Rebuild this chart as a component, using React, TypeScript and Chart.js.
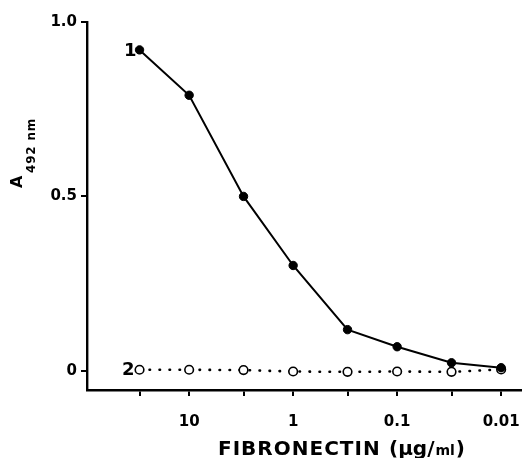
import React, { useEffect, useRef } from "react";
import { Chart, registerables } from "chart.js";

Chart.register(...registerables);

const concentrations = [30, 10, 3, 1, 0.3, 0.1, 0.03, 0.01];
const series1 = [0.92, 0.79, 0.5, 0.302, 0.118, 0.069, 0.023, 0.009];
const series2 = [0.003, 0.003, 0.002, -0.002, -0.003, -0.002, -0.003, 0.004];
const xTickValues = [30, 10, 3, 1, 0.3, 0.1, 0.03, 0.01];
const xTickLabels: Record<string, string> = { "10": "10", "1": "1", "0.1": "0.1", "0.01": "0.01" };
const yTickValues = [0, 0.5, 1.0];
const yTickLabels = ["0", "0.5", "1.0"];
const seriesLabels = ["1", "2"];

const FONT = "'DejaVu Sans', 'Liberation Sans', Arial, sans-serif";

const annotate = {
  id: "annotate",
  afterDraw(chart: any) {
    const ctx = chart.ctx;
    const xs = chart.scales.x;
    const ys = chart.scales.y;
    ctx.save();
    ctx.fillStyle = "#000";
    ctx.font = `bold 18px ${FONT}`;
    ctx.textAlign = "right";
    ctx.textBaseline = "middle";
    ctx.fillText(seriesLabels[0], xs.getPixelForValue(concentrations[0]) - 3, ys.getPixelForValue(series1[0]) + 1);
    ctx.fillText(seriesLabels[1], xs.getPixelForValue(concentrations[0]) - 5, ys.getPixelForValue(series2[0]) + 1);

    // x-axis title
    ctx.textAlign = "left";
    ctx.textBaseline = "alphabetic";
    ctx.font = `bold 20px ${FONT}`;
    (ctx as any).letterSpacing = "1px";
    ctx.fillText("FIBRONECTIN", 218, 455);
    (ctx as any).letterSpacing = "0px";
    let x = 389;
    ctx.fillText("(µg/", x, 455);
    x += ctx.measureText("(µg/").width;
    ctx.font = `bold 14px ${FONT}`;
    ctx.fillText("ml", x + 1, 455);
    x += ctx.measureText("ml").width + 2;
    ctx.font = `bold 20px ${FONT}`;
    ctx.fillText(")", x, 455);

    // y-axis title
    ctx.translate(22, 188);
    ctx.rotate(-Math.PI / 2);
    ctx.font = `bold 16px ${FONT}`;
    ctx.fillText("A", 0, 0);
    ctx.font = `bold 12px ${FONT}`;
    (ctx as any).letterSpacing = "0.8px";
    ctx.fillText("492 nm", 15, 13);
    ctx.restore();
  },
};

export default function App() {
  const ref = useRef<HTMLCanvasElement | null>(null);
  useEffect(() => {
    if (!ref.current) return;
    const chart = new Chart(ref.current, {
      type: "line",
      data: {
        datasets: [
          {
            data: concentrations.map((x, i) => ({ x, y: series1[i] })),
            borderColor: "#000",
            borderWidth: 2,
            backgroundColor: "#000",
            pointBackgroundColor: "#000",
            pointBorderColor: "#000",
            pointRadius: 4.2,
            pointBorderWidth: 1,
            tension: 0,
            clip: false,
          },
          {
            data: concentrations.map((x, i) => ({ x, y: series2[i] })),
            borderColor: "#000",
            borderWidth: 2.6,
            borderDash: [0.5, 9.5],
            borderCapStyle: "round",
            pointBackgroundColor: "#fff",
            pointBorderColor: "#000",
            pointRadius: 4.3,
            pointBorderWidth: 1.6,
            tension: 0,
            order: 2,
            clip: false,
          },
        ],
      } as any,
      options: {
        animation: false,
        responsive: false,
        maintainAspectRatio: false,
        layout: { autoPadding: false, padding: { left: 0, right: 0, top: 22, bottom: 0 } },
        plugins: { legend: { display: false }, tooltip: { enabled: false } },
        scales: {
          x: {
            type: "logarithmic",
            reverse: true,
            min: 0.0063,
            max: 96,
            afterBuildTicks: (s: any) => {
              s.ticks = xTickValues.map((v) => ({ value: v }));
            },
            afterFit: (s: any) => {
              s.height = 68;
              s.paddingLeft = 0;
              s.paddingRight = 0;
            },
            ticks: {
              autoSkip: false,
              maxRotation: 0,
              padding: 17,
              color: "#000",
              font: { family: FONT, size: 15, weight: "bold" },
              callback: (v: any) => xTickLabels[String(v)] ?? "",
            },
            grid: { drawOnChartArea: false, drawTicks: true, tickLength: 6, color: "#000", lineWidth: 2 },
            border: { display: true, color: "#000", width: 2.4 },
          },
          y: {
            type: "linear",
            min: -0.055,
            max: 1.0,
            afterBuildTicks: (s: any) => {
              s.ticks = yTickValues.map((v) => ({ value: v }));
            },
            afterFit: (s: any) => {
              s.width = 87;
              s.paddingTop = 0;
              s.paddingBottom = 0;
            },
            ticks: {
              padding: 4,
              color: "#000",
              font: { family: FONT, size: 15, weight: "bold" },
              callback: (v: any) => {
                const i = yTickValues.indexOf(Number(v));
                return i >= 0 ? yTickLabels[i] : "";
              },
            },
            grid: { drawOnChartArea: false, drawTicks: true, tickLength: 6, color: "#000", lineWidth: 2 },
            border: { display: true, color: "#000", width: 2.4 },
          },
        },
      } as any,
      plugins: [annotate],
    });
    return () => chart.destroy();
  }, []);
  return (
    <div style={{ position: "fixed", left: 0, top: 0, width: 522, height: 458, background: "#fff" }}>
      <canvas ref={ref} width={522} height={458} style={{ width: 522, height: 458, display: "block" }} />
    </div>
  );
}
